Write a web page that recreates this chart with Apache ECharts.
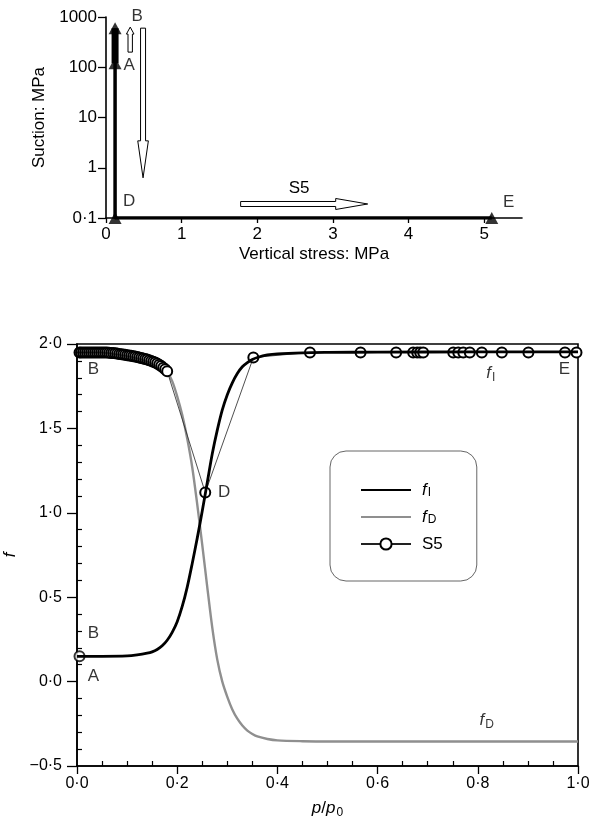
<!DOCTYPE html>
<html>
<head>
<meta charset="utf-8">
<script src="https://cdn.jsdelivr.net/npm/echarts@6/dist/echarts.min.js"></script>
<style>
  html, body { margin: 0; padding: 0; background: #fff; }
  #chart { width: 591px; height: 822px; }
</style>
</head>
<body>
<div id="chart"></div>
<script>
// ---- Upper panel: stress path (vertical stress, suction), MPa ----
const stressPath = [[0.12, 120], [0.12, 600], [0.12, 0.1], [5.1, 0.1]];
const stressStates = ['A', 'B', 'D', 'E'];
// hollow arrows: [x0, y0, x1, y1]
const pathArrows = [[0.32, 200, 0.32, 630], [0.49, 600, 0.49, 0.63], [1.78, 0.19, 3.46, 0.19]];
const arrowNames = ['', '', 'S5'];
const stressTicks = [0, 1, 2, 3, 4, 5];

// ---- Lower panel: f against p/p0 ----
const pRatio = [0, 0.05, 0.1, 0.12, 0.14, 0.15, 0.16, 0.17, 0.18, 0.19,
                0.2, 0.21, 0.22, 0.23, 0.24, 0.25, 0.26, 0.27, 0.28, 0.29,
                0.3, 0.31, 0.32, 0.33, 0.34, 0.35, 0.36, 0.38, 0.4, 0.45,
                0.5, 0.6, 0.8, 1.0];
const fI = [0.15, 0.15, 0.152, 0.158, 0.168, 0.176, 0.19, 0.212, 0.245, 0.292,
            0.355, 0.445, 0.56, 0.7, 0.85, 1.01, 1.18, 1.35, 1.49, 1.61,
            1.70, 1.77, 1.825, 1.865, 1.89, 1.908, 1.92, 1.935, 1.942, 1.948,
            1.95, 1.952, 1.953, 1.953];
const fD = [1.95, 1.948, 1.935, 1.925, 1.91, 1.9, 1.885, 1.865, 1.835, 1.78,
            1.69, 1.58, 1.44, 1.27, 1.05, 0.81, 0.56, 0.32, 0.13, 0.0,
            -0.09, -0.165, -0.22, -0.26, -0.29, -0.31, -0.325, -0.34, -0.348, -0.353,
            -0.355, -0.355, -0.355, -0.355];
// test S5 states
const s5Start = [0.005, 0.15];
const s5Ratio = [0.005, 0.008, 0.012, 0.016, 0.02, 0.024, 0.028, 0.032, 0.036, 0.04,
                 0.044, 0.048, 0.052, 0.056, 0.06, 0.064, 0.068, 0.072, 0.076, 0.08,
                 0.084, 0.088, 0.092, 0.096, 0.1, 0.104, 0.108, 0.112, 0.116, 0.12,
                 0.124, 0.128, 0.132, 0.136, 0.14, 0.144, 0.148, 0.152, 0.156, 0.16,
                 0.164, 0.168, 0.172, 0.176, 0.18,
                 0.256, 0.352,
                 0.465, 0.566, 0.637, 0.671, 0.679, 0.685, 0.691, 0.751, 0.761, 0.771,
                 0.784, 0.808, 0.848, 0.901, 0.974, 0.997];
const s5F = [1.95, 1.95, 1.95, 1.95, 1.95, 1.95, 1.95, 1.95, 1.95, 1.95,
             1.95, 1.95, 1.95, 1.95, 1.95, 1.948, 1.947, 1.946, 1.945, 1.943,
             1.941, 1.94, 1.938, 1.936, 1.934, 1.932, 1.93, 1.928, 1.926, 1.923,
             1.92, 1.917, 1.914, 1.911, 1.908, 1.904, 1.9, 1.895, 1.89, 1.884,
             1.877, 1.869, 1.86, 1.85, 1.838,
             1.12, 1.92,
             1.95, 1.95, 1.95, 1.95, 1.95, 1.95, 1.95, 1.95, 1.95, 1.95,
             1.95, 1.95, 1.95, 1.95, 1.95, 1.95];
const fTicksMinor = [-0.4, -0.3, -0.2, -0.1, 0.1, 0.2, 0.3, 0.4, 0.6, 0.7, 0.8, 0.9,
                     1.1, 1.2, 1.3, 1.4, 1.6, 1.7, 1.8, 1.9];
const pTicksMinor = [0.05, 0.1, 0.15, 0.25, 0.3, 0.35, 0.45, 0.5, 0.55,
                     0.65, 0.7, 0.75, 0.85, 0.9, 0.95];

const FONT = '"Liberation Sans", Arial, Helvetica, sans-serif';
const zip = (xs, ys) => xs.map((x, i) => [x, ys[i]]);
const dotted = s => s.replace('.', '\u00b7');
const fmtDec = v => (v < 0 ? '\u2212' : '') + dotted(Math.abs(v).toFixed(1));

const richF = {
  it: { fontStyle: 'italic', fontSize: 17, fontFamily: FONT, color: '#000' },
  sub: { fontSize: 12, fontFamily: FONT, color: '#000', verticalAlign: 'bottom', padding: [9, 0, 0, 1] },
  tx: { fontSize: 17, fontFamily: FONT, color: '#000' }
};
const labelText = name => name === 'fI' ? '{it|f}{sub|I}' : name === 'fD' ? '{it|f}{sub|D}' : '{tx|' + name + '}';

// hollow arrow shapes (shaft half-width, wing half-width, head length), px
const arrowShapes = [
  { shaft: 2.2, wing: 3.8, head: 7 },
  { shaft: 2.5, wing: 5.3, head: 37 },
  { shaft: 2.5, wing: 5.5, head: 32 }
];

function renderArrow(params, api) {
  const i = params.dataIndex;
  const a = api.coord([api.value(0), api.value(1)]);
  const b = api.coord([api.value(2), api.value(3)]);
  const st = arrowShapes[i];
  const dx = b[0] - a[0], dy = b[1] - a[1];
  const len = Math.hypot(dx, dy);
  const ux = dx / len, uy = dy / len, nx = -uy, ny = ux;
  const hb = len - st.head;
  const P = (t, s) => [a[0] + ux * t + nx * s, a[1] + uy * t + ny * s];
  const children = [{
    type: 'polygon',
    shape: { points: [P(0, -st.shaft), P(hb, -st.shaft), P(hb, -st.wing), P(len, 0),
                      P(hb, st.wing), P(hb, st.shaft), P(0, st.shaft)] },
    style: { fill: '#fff', stroke: '#000', lineWidth: 1 }
  }];
  if (arrowNames[i]) {
    children.push({
      type: 'text',
      style: {
        text: arrowNames[i], x: (a[0] + b[0]) / 2 - 5, y: (a[1] + b[1]) / 2 - 16,
        align: 'center', verticalAlign: 'middle', font: '17px ' + FONT, fill: '#000'
      }
    });
  }
  return { type: 'group', children };
}

// text annotations anchored on data points
function annotations(xAxisIndex, yAxisIndex, items) {
  return {
    type: 'scatter', xAxisIndex, yAxisIndex, silent: true, clip: false,
    symbolSize: 0, z: 10,
    data: items.map(it => ({
      value: it.at,
      label: {
        show: true, position: 'inside', offset: it.offset,
        formatter: labelText(it.text), rich: richF
      }
    }))
  };
}

const axisLineStyle = { color: '#000', width: 1.6 };
const chart = echarts.init(document.getElementById('chart'), null, { renderer: 'canvas' });

chart.setOption({
  animation: false,
  backgroundColor: '#fff',
  textStyle: { fontFamily: FONT },
  grid: [
    { left: 106, right: 69, top: 17, bottom: 604, outerBoundsMode: 'none' },
    { left: 77, right: 13, top: 344, bottom: 56, outerBoundsMode: 'none',
      show: true, borderColor: '#000', borderWidth: 1.6 }
  ],
  legend: {
    data: [
      { name: 'fI', itemStyle: { opacity: 0 } },
      { name: 'fD', itemStyle: { opacity: 0 } },
      { name: 'S5' }
    ],
    orient: 'vertical', left: 330, top: 451,
    padding: [30, 34, 28, 30], itemGap: 9, itemWidth: 50, itemHeight: 14,
    backgroundColor: '#fff', borderColor: '#666', borderWidth: 1, borderRadius: 16,
    formatter: labelText,
    textStyle: { rich: richF, lineHeight: 18, padding: [0, 0, 0, 6] },
    selectedMode: false
  },
  xAxis: [
    {
      gridIndex: 0, type: 'value', min: 0, max: 5.5,
      name: 'Vertical stress: MPa', nameLocation: 'middle', nameGap: 28,
      nameTextStyle: { fontSize: 17, color: '#000', fontFamily: FONT },
      axisLine: { onZero: false, lineStyle: axisLineStyle },
      axisTick: { customValues: stressTicks, length: 5, lineStyle: { color: '#000', width: 1.3 } },
      axisLabel: { customValues: stressTicks, margin: 8, fontSize: 17, color: '#000', fontFamily: FONT },
      splitLine: { show: false }
    },
    {
      gridIndex: 1, type: 'value', min: 0, max: 1, interval: 0.2,
      name: '{it|p}{tx|/}{it|p}{sub|0}', nameLocation: 'middle', nameGap: 32,
      nameTextStyle: { rich: richF },
      axisLine: { onZero: false, lineStyle: axisLineStyle },
      axisTick: { length: 8, lineStyle: { color: '#000', width: 1.3 } },
      axisLabel: { formatter: fmtDec, margin: 10, fontSize: 16, color: '#000', fontFamily: FONT },
      splitLine: { show: false }
    },
    {
      gridIndex: 1, type: 'value', min: 0, max: 1, position: 'bottom',
      axisLine: { show: false, onZero: false },
      axisTick: { inside: true, customValues: pTicksMinor, length: 5, lineStyle: { color: '#000', width: 1.2 } },
      axisLabel: { show: false },
      splitLine: { show: false }
    }
  ],
  yAxis: [
    {
      gridIndex: 0, type: 'log', logBase: 10, min: 0.1, max: 1000,
      name: 'Suction: MPa', nameLocation: 'middle', nameGap: 58,
      nameTextStyle: { fontSize: 17, color: '#000', fontFamily: FONT },
      axisLine: { show: true, onZero: false, lineStyle: axisLineStyle },
      axisTick: { show: true, length: 8, lineStyle: { color: '#000', width: 1.3 } },
      axisLabel: {
        margin: 9, fontSize: 17, color: '#000', fontFamily: FONT,
        formatter: v => v < 1 ? dotted(v.toFixed(1)) : String(Math.round(v))
      },
      splitLine: { show: false }
    },
    {
      gridIndex: 1, type: 'value', min: -0.5, max: 2.0, interval: 0.5,
      name: '{it|f}', nameLocation: 'middle', nameGap: 57,
      nameTextStyle: { rich: richF },
      axisLine: { onZero: false, lineStyle: axisLineStyle },
      axisTick: { length: 10, lineStyle: { color: '#000', width: 1.3 } },
      axisLabel: { formatter: fmtDec, margin: 15, fontSize: 16, color: '#000', fontFamily: FONT },
      splitLine: { show: false }
    },
    {
      gridIndex: 1, type: 'value', min: -0.5, max: 2.0, position: 'left',
      axisLine: { show: false, onZero: false },
      axisTick: { show: true, inside: true, customValues: fTicksMinor, length: 5, lineStyle: { color: '#000', width: 1.2 } },
      axisLabel: { show: false },
      splitLine: { show: false }
    }
  ],
  series: [
    // upper panel
    {
      type: 'line', xAxisIndex: 0, yAxisIndex: 0, silent: true,
      data: stressPath, symbol: 'none',
      lineStyle: { color: '#000', width: 3.5 }
    },
    {
      type: 'line', xAxisIndex: 0, yAxisIndex: 0, silent: true,
      data: stressPath.slice(0, 2), symbol: 'none',
      lineStyle: { color: '#000', width: 7 }
    },
    {
      type: 'scatter', xAxisIndex: 0, yAxisIndex: 0, silent: true, clip: false,
      data: stressPath, symbol: 'triangle', symbolSize: [13, 12],
      itemStyle: { color: '#000' }
    },
    annotations(0, 0, stressStates.map((s, i) => ({
      text: s, at: stressPath[i], offset: [[14, 2], [22, -12], [14, -17], [17, -16]][i]
    }))),
    {
      type: 'custom', xAxisIndex: 0, yAxisIndex: 0, silent: true,
      renderItem: renderArrow, data: pathArrows,
      encode: { x: [0, 2], y: [1, 3] }, z: 5
    },
    // lower panel
    {
      name: 'fD', type: 'line', xAxisIndex: 1, yAxisIndex: 1,
      data: zip(pRatio, fD), symbol: 'none', smooth: 0.3,
      lineStyle: { color: '#8f8f8f', width: 2.4 }, itemStyle: { color: '#8f8f8f' }, z: 2
    },
    {
      name: 'S5', type: 'line', xAxisIndex: 1, yAxisIndex: 1,
      data: zip(s5Ratio, s5F), symbol: 'emptyCircle', symbolSize: 10, showAllSymbol: true,
      lineStyle: { color: '#222', width: 0.8 },
      itemStyle: { color: '#000', borderColor: '#000', borderWidth: 1.1 }, z: 3
    },
    {
      name: 'S5', type: 'scatter', xAxisIndex: 1, yAxisIndex: 1, clip: false,
      data: [s5Start], symbol: 'emptyCircle', symbolSize: 10,
      itemStyle: { color: '#000', borderColor: '#000', borderWidth: 1.1 }, z: 3
    },
    {
      name: 'fI', type: 'line', xAxisIndex: 1, yAxisIndex: 1,
      data: zip(pRatio, fI), symbol: 'none', smooth: 0.3,
      lineStyle: { color: '#000', width: 2.8 }, itemStyle: { color: '#000' }, z: 4
    },
    annotations(1, 1, [
      { text: 'B', at: [s5Ratio[0], s5F[0]], offset: [14, 17] },
      { text: 'D', at: [s5Ratio[45], s5F[45]], offset: [19, 0] },
      { text: 'E', at: [s5Ratio[s5Ratio.length - 1], s5F[s5F.length - 1]], offset: [-12, 17] },
      { text: 'A', at: s5Start, offset: [14, 20] },
      { text: 'B', at: s5Start, offset: [14, -23] },
      { text: 'fI', at: [pRatio[32], fI[32]], offset: [13, 21] },
      { text: 'fD', at: [pRatio[32], fD[32]], offset: [9, -21] }
    ])
  ]
});
</script>
</body>
</html>
